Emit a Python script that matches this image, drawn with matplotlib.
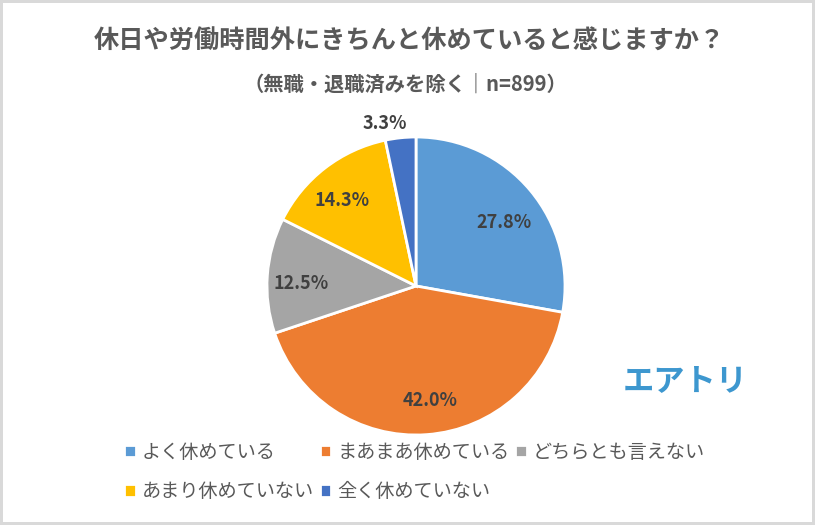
import matplotlib.pyplot as plt

#################################parameters############################################
plt.rcParams['font.family'] = ['Noto Sans CJK JP', 'DejaVu Sans']

categories = ["よく休めている", "まあまあ休めている", "どちらとも言えない", "あまり休めていない", "全く休めていない"]
values = [27.8, 42.0, 12.5, 14.3, 3.3]
colors = ['#5B9BD5', '#ED7D31', '#A5A5A5', '#FFC000', '#4472C4']

title = "休日や労働時間外にきちんと休めていると感じますか？"
subtitle = "（無職・退職済みを除く｜n=899）"
logo = "エアトリ"

#################################plot############################################
fig = plt.figure(figsize=(8.15, 5.25), dpi=100, facecolor='white', edgecolor='#D9D9D9', linewidth=4)
ax = fig.add_axes([267 / 815, 1 - 435 / 525, 298 / 815, 298 / 525])

wedges, texts, autotexts = ax.pie(values, colors=colors, startangle=90, counterclock=False,
                                  autopct='%.1f%%', pctdistance=0.76,
                                  wedgeprops={'edgecolor': 'white', 'linewidth': 2})
ax.set_xlim(-1, 1)
ax.set_ylim(-1, 1)

# ---- data labels ----
nudges = [(1, -9), (6, -2), (-2, -6), (-5, -4), (-19, 5)]  # pixels, Excel places them by hand
for t, (dx, dy) in zip(autotexts, nudges):
    t.set_color('#404040')
    t.set_fontsize(13)
    t.set_fontweight('bold')
    x, y = t.get_position()
    t.set_position((x + dx / 149, y + dy / 149))
# the smallest slice has its label outside
x, y = autotexts[4].get_position()
autotexts[4].set_position((x, y + 0.30))
autotexts[4].set_clip_on(False)

# ---- titles ----
fig.text(409 / 815, 1 - 41 / 525, title, ha='center', va='center', fontsize=18.2, fontweight='bold', color='#595959')
fig.text(405 / 815, 1 - 84 / 525, subtitle, ha='center', va='center', fontsize=14.6, fontweight='bold', color='#595959')

# ---- logo ----
fig.text(685 / 815, 1 - 381 / 525, logo, ha='center', va='center', fontsize=22.5, fontweight='bold', color='#3D97CF')

# ---- legend ----
order = [0, 3, 1, 4, 2]  # filled column by column
fig.legend([wedges[i] for i in order], [categories[i] for i in order], ncol=3, loc='upper left',
           bbox_to_anchor=(124 / 815, 1 - 442 / 525), frameon=False, fontsize=13.8, labelcolor='#595959',
           handlelength=0.62, handleheight=0.62, handletextpad=0.3, columnspacing=0.3, labelspacing=0.95,
           borderpad=0, borderaxespad=0)

plt.savefig('out.png', dpi=100, facecolor=fig.get_facecolor(), edgecolor=fig.get_edgecolor())
